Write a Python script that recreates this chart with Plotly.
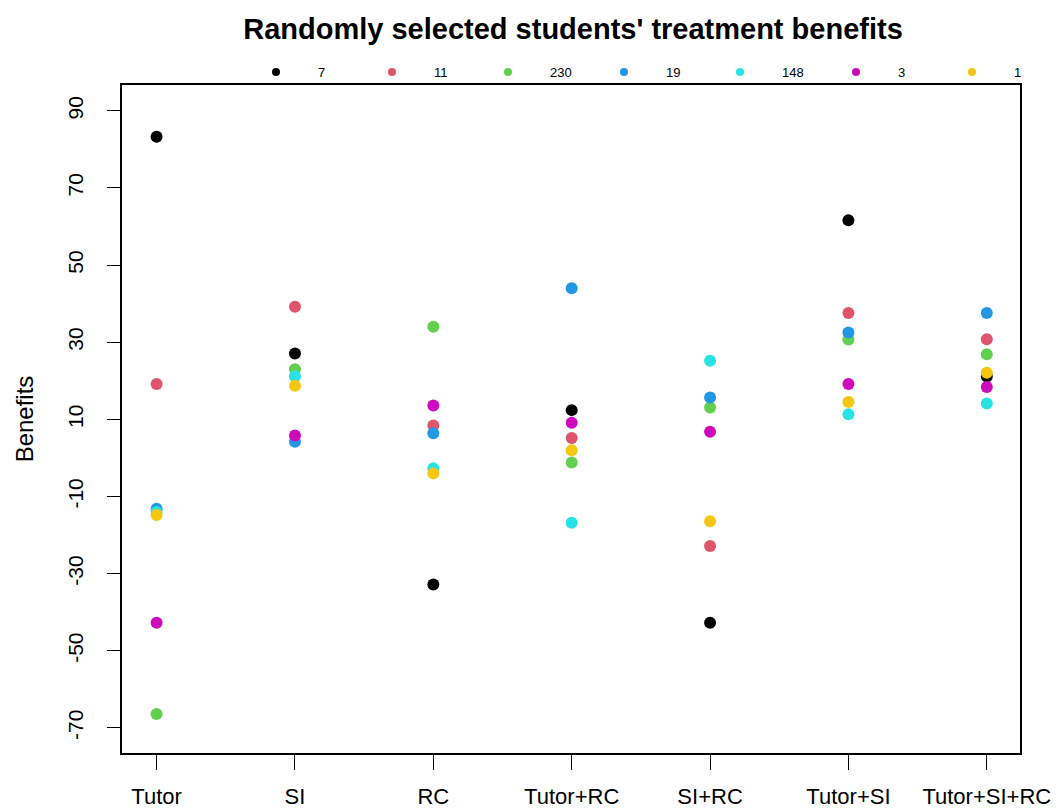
import plotly.graph_objects as go

categories = ["Tutor", "SI", "RC", "Tutor+RC", "SI+RC", "Tutor+SI", "Tutor+SI+RC"]
students = ["7", "11", "230", "19", "148", "3", "1"]
colors = ["#000000", "#DF536B", "#61D04F", "#2297E6", "#28E2E5", "#CD0BBC", "#F5C710"]

s7 = [83.3, 27.1, -32.8, 12.4, -42.7, 61.6, 21.1]
s11 = [19.2, 39.2, 8.4, 5.2, -22.8, 37.6, 30.8]
s230 = [-66.4, 23.0, 34.0, -1.2, 13.1, 30.7, 26.9]
s19 = [-13.2, 4.2, 6.4, 44.0, 15.7, 32.5, 37.6]
s148 = [-14.0, 21.2, -2.7, -16.8, 25.2, 11.3, 14.1]
s3 = [-42.7, 5.8, 13.6, 9.1, 6.8, 19.2, 18.4]
s1 = [-14.8, 18.7, -4.0, 2.0, -16.4, 14.5, 22.1]
series = [s7, s11, s230, s19, s148, s3, s1]

y_ticks = [90, 70, 50, 30, 10, -10, -30, -50, -70]
xpos = list(range(1, len(categories) + 1))

fig = go.Figure()
for name, col, vals in zip(students, colors, series):
    fig.add_trace(go.Scatter(
        x=xpos, y=vals, mode="markers", name=name, showlegend=False,
        marker=dict(color=col, size=12, line=dict(width=0)),
    ))
for name, col in zip(students, colors):
    fig.add_trace(go.Scatter(
        x=[None], y=[None], mode="markers", name=name, showlegend=True,
        marker=dict(color=col, size=8, line=dict(width=0)),
    ))

font = "Arial, Liberation Sans, sans-serif"
fig.update_layout(
    width=1060, height=810,
    margin=dict(l=122, r=40, t=85, b=57, autoexpand=False),
    plot_bgcolor="white", paper_bgcolor="white",
    font=dict(family=font, color="black"),
    title=dict(text="<b>Randomly selected students' treatment benefits</b>",
               x=573 / 1060, xanchor="center", xref="container",
               y=1 - 29 / 810, yanchor="middle", yref="container",
               font=dict(size=29, family=font, color="black")),
    legend=dict(orientation="h", xref="container", yref="container",
                x=234 / 1060, xanchor="left", y=1 - 72 / 810, yanchor="middle",
                itemwidth=74, entrywidth=27, entrywidthmode="pixels",
                font=dict(size=13, family=font), bgcolor="rgba(0,0,0,0)",
                borderwidth=0, tracegroupgap=0),
    xaxis=dict(range=[0.75, 7.24], tickvals=xpos, ticktext=categories,
               showgrid=False, zeroline=False, showline=True, mirror=True,
               linecolor="black", linewidth=1.5, ticks="outside", ticklen=15,
               tickwidth=1.3, tickcolor="black", ticklabelstandoff=8,
               automargin=False, tickfont=dict(size=22, family=font)),
    yaxis=dict(range=[-76.5, 96.7], tickvals=y_ticks,
               ticktext=[str(v) for v in y_ticks], tickangle=-90,
               showgrid=False, zeroline=False, showline=True, mirror=True,
               linecolor="black", linewidth=1.5, ticks="outside", ticklen=13,
               tickwidth=1.3, tickcolor="black", ticklabelstandoff=16,
               automargin=False, tickfont=dict(size=21, family=font),
               title=dict(text="Benefits", standoff=23,
                          font=dict(size=24, family=font))),
)

fig.write_html("out.html")
